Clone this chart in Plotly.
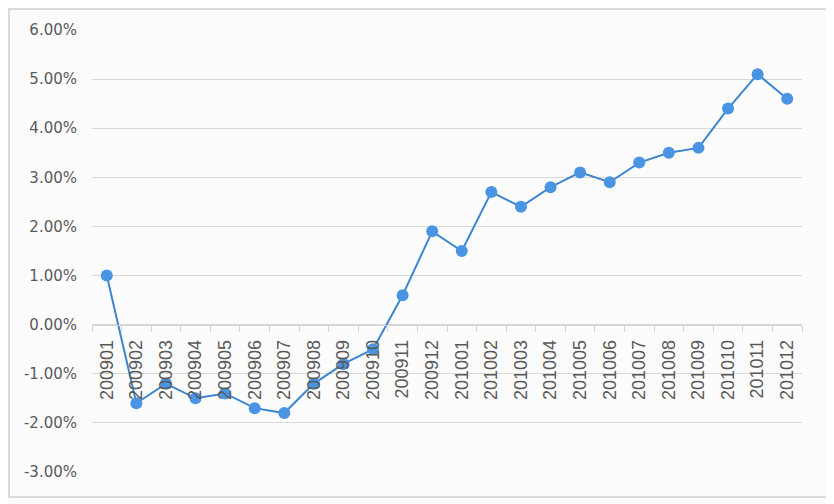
import plotly.graph_objects as go

months = ["200901", "200902", "200903", "200904", "200905", "200906", "200907", "200908",
          "200909", "200910", "200911", "200912", "201001", "201002", "201003", "201004",
          "201005", "201006", "201007", "201008", "201009", "201010", "201011", "201012"]
values = [0.010, -0.016, -0.012, -0.015, -0.014, -0.017, -0.018, -0.012,
          -0.008, -0.005, 0.006, 0.019, 0.015, 0.027, 0.024, 0.028,
          0.031, 0.029, 0.033, 0.035, 0.036, 0.044, 0.051, 0.046]
y_ticks = [-0.03, -0.02, -0.01, 0.0, 0.01, 0.02, 0.03, 0.04, 0.05, 0.06]
y_ticktext = [f"{v * 100:.2f}%" for v in y_ticks]

fig = go.Figure()
fig.add_trace(go.Scatter(
    x=months, y=values, mode="lines+markers",
    line=dict(color="#3d86cf", width=2),
    marker=dict(color="#4a94e4", size=12),
    showlegend=False,
))

ymin, ymax = -0.03, 0.06
L, R, T, B = 84, 40, 22, 40
W, H = 834, 504
pw, ph = W - L - R, H - T - B
fig.update_layout(
    width=W, height=H,
    margin=dict(l=L, r=R, t=T, b=B),
    paper_bgcolor="#fdfcfd",
    plot_bgcolor="#fdfcfd",
    xaxis=dict(
        type="category",
        anchor="free",
        position=(0 - ymin) / (ymax - ymin),
        showgrid=False,
        showline=True, linecolor="#d4d4d4", linewidth=1,
        ticks="outside", tickson="boundaries", ticklen=6, tickcolor="#d4d4d4",
        tickangle=-90,
        tickfont=dict(family="Liberation Sans, Arial", size=18, color="#595959"),
        ticklabelstandoff=7,
        range=[-0.5, len(months) - 0.5],
    ),
    yaxis=dict(
        range=[ymin, ymax],
        tickvals=y_ticks,
        ticktext=y_ticktext,
        showgrid=True, gridcolor="#d9d9d9", gridwidth=1,
        zeroline=False,
        showline=False,
        tickfont=dict(family="DejaVu Sans", size=15, color="#595959"),
        ticklabelstandoff=14,
    ),
    shapes=[dict(
        type="rect", xref="paper", yref="paper",
        x0=(1 - L) / pw, x1=(819 - L) / pw,
        y0=(H - B - 489) / ph, y1=(H - B - 1) / ph,
        line=dict(color="#d0d0d0", width=1.5),
        fillcolor="rgba(0,0,0,0)", layer="below",
    )],
)

fig.write_html("out.html")
